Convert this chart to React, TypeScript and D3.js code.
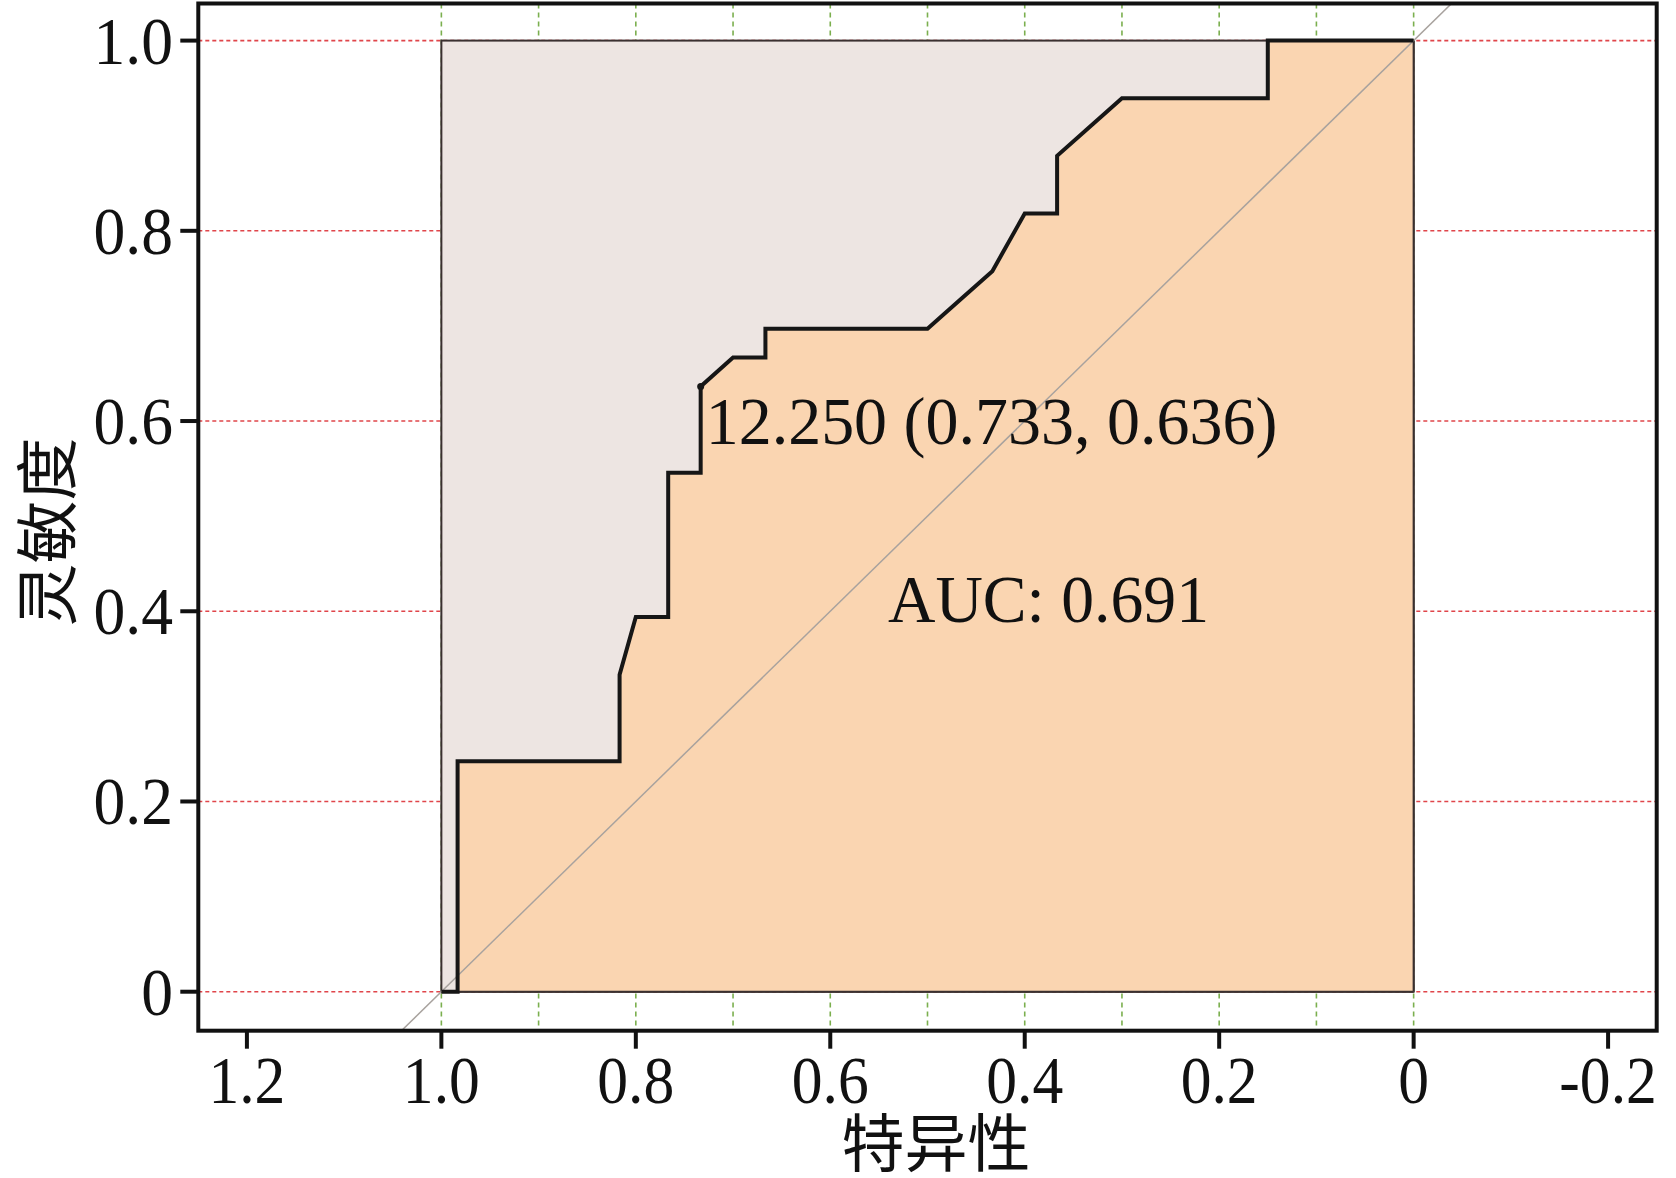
import React from "react";
import * as d3 from "d3";

// ROC curve points (specificity, sensitivity)
const specificity = [1, 0.9833, 0.9833, 0.8167, 0.8167, 0.8, 0.7667, 0.7667, 0.7333, 0.7333, 0.7, 0.6667, 0.6667, 0.5, 0.4667, 0.4333, 0.4, 0.3667, 0.3667, 0.3333, 0.3, 0.15, 0.15, 0];
const sensitivity = [0, 0, 0.2424, 0.2424, 0.3333, 0.3939, 0.3939, 0.5455, 0.5455, 0.6364, 0.6667, 0.6667, 0.697, 0.697, 0.7273, 0.7576, 0.8182, 0.8182, 0.8788, 0.9091, 0.9394, 0.9394, 1, 1];

const xTicks = [1.2, 1.0, 0.8, 0.6, 0.4, 0.2, 0, -0.2];
const xTickLabels = ["1.2", "1.0", "0.8", "0.6", "0.4", "0.2", "0", "-0.2"];
const yTicks = [0, 0.2, 0.4, 0.6, 0.8, 1.0];
const yTickLabels = ["0", "0.2", "0.4", "0.6", "0.8", "1.0"];
const xGrid = [1.0, 0.9, 0.8, 0.7, 0.6, 0.5, 0.4, 0.3, 0.2, 0.1, 0];

const cutoffLabel = "12.250 (0.733, 0.636)";
const cutoffSpec = 0.7333;
const cutoffSens = 0.6364;
const aucLabel = "AUC: 0.691";
const xTitle = "特异性";
const yTitle = "灵敏度";

export default function App() {
  const left = 198.3, right = 1656.7, top = 3.5, bottom = 1030.7;
  const x = d3.scaleLinear().domain([1.25, -0.25]).range([left, right]);
  const y = d3.scaleLinear().domain([-0.041, 1.039]).range([bottom, top]);

  const pts: [number, number][] = specificity.map((s, i) => [s, sensitivity[i]]);
  const line = d3.line<[number, number]>().x(d => x(d[0])).y(d => y(d[1]));
  const area = d3.area<[number, number]>().x(d => x(d[0])).y0(y(0)).y1(d => y(d[1]));

  const serif = "'Liberation Serif', 'Times New Roman', serif";
  const cjk = "'Noto Sans CJK SC', sans-serif";
  const tickSize = 67;
  const tickScale = 0.92;
  const cx = x(cutoffSpec) + 5;

  return (
    <svg width={1676} height={1178} style={{ position: "absolute", left: 0, top: 0, background: "#fff" }}>
      <defs>
        <clipPath id="plotclip">
          <rect x={left} y={top} width={right - left} height={bottom - top} />
        </clipPath>
      </defs>
      {/* horizontal red dotted grid */}
      {yTicks.map((t, i) => (
        <line key={"hg" + i} x1={left} x2={right} y1={y(t)} y2={y(t)} stroke="#E0454A" strokeWidth={1.6} strokeDasharray="4,3" />
      ))}
      {/* vertical green dashed grid */}
      {xGrid.map((t, i) => (
        <line key={"vg" + i} x1={x(t)} x2={x(t)} y1={top} y2={bottom} stroke="#7BAF4E" strokeWidth={1.6} strokeDasharray="5,4" />
      ))}
      {/* background square */}
      <rect x={x(1)} y={y(1)} width={x(0) - x(1)} height={y(0) - y(1)} fill="#EDE5E2" stroke="#3a3030" strokeWidth={2} />
      {/* area under ROC */}
      <path d={area(pts) || ""} fill="#FAD5B1" />
      <line x1={x(0)} x2={x(0)} y1={y(1)} y2={y(0)} stroke="#3a3030" strokeWidth={2} />
      <line x1={x(1)} x2={x(0)} y1={y(0)} y2={y(0)} stroke="#3a3030" strokeWidth={2} />
      {/* diagonal */}
      <g clipPath="url(#plotclip)">
        <line x1={x(1.1)} y1={y(-0.1)} x2={x(-0.1)} y2={y(1.1)} stroke="#A8A29E" strokeWidth={1.5} />
      </g>
      {/* ROC curve */}
      <path d={line(pts) || ""} fill="none" stroke="#161616" strokeWidth={4} strokeLinejoin="miter" />
      <circle cx={x(cutoffSpec)} cy={y(cutoffSens)} r={3.5} fill="#161616" />
      {/* annotations */}
      <text x={cx} y={y(cutoffSens) + 58} fontFamily={serif} fontSize={67} fill="#111"
        transform={`translate(${cx},0) scale(0.985,1) translate(${-cx},0)`}>{cutoffLabel}</text>
      <text x={888} y={621.7} fontFamily={serif} fontSize={67} fill="#111"
        transform={`translate(888,0) scale(0.98,1) translate(-888,0)`}>{aucLabel}</text>
      {/* frame */}
      <rect x={left} y={top} width={right - left} height={bottom - top} fill="none" stroke="#111" strokeWidth={4} />
      {/* x ticks */}
      {xTicks.map((t, i) => (
        <g key={"xt" + i}>
          <line x1={x(t)} x2={x(t)} y1={bottom} y2={bottom + 18} stroke="#111" strokeWidth={4} />
          <text x={x(t)} y={1102.7} textAnchor="middle" fontFamily={serif} fontSize={tickSize} fill="#111"
            transform={`translate(${x(t)},0) scale(${tickScale},1) translate(${-x(t)},0)`}>{xTickLabels[i]}</text>
        </g>
      ))}
      {/* y ticks */}
      {yTicks.map((t, i) => (
        <g key={"yt" + i}>
          <line x1={left - 18} x2={left} y1={y(t)} y2={y(t)} stroke="#111" strokeWidth={4} />
          <text x={173} y={y(t) + 23} textAnchor="end" fontFamily={serif} fontSize={tickSize} fill="#111"
            transform={`translate(173,0) scale(0.95,1) translate(-173,0)`}>{yTickLabels[i]}</text>
        </g>
      ))}
      {/* axis titles */}
      <text x={936} y={1166} textAnchor="middle" fontFamily={cjk} fontSize={63} fill="#111">{xTitle}</text>
      <text transform="translate(70,532) rotate(-90)" textAnchor="middle" fontFamily={cjk} fontSize={63} fill="#111">{yTitle}</text>
    </svg>
  );
}
